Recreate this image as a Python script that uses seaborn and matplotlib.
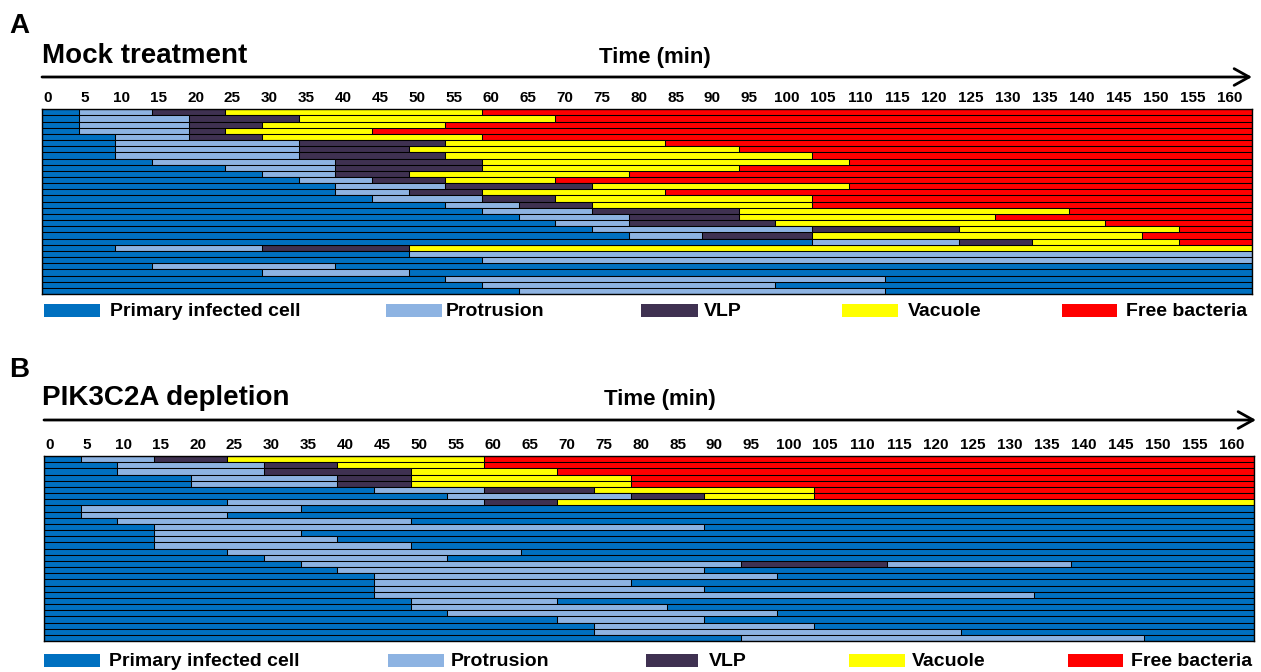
import numpy as np
import pandas as pd
import seaborn as sns
import matplotlib.pyplot as plt
from matplotlib.patches import Rectangle

# states and colours
states = ["Primary infected cell", "Protrusion", "VLP", "Vacuole", "Free bacteria"]
state_codes = ["P", "Pr", "V", "Va", "F"]
state_colors = ["#0070C0", "#8DB3E2", "#3F3151", "#FFFF00", "#FF0000"]
time_labels = list(range(0, 165, 5))
t_end = 165

# Mock treatment: sequence of states per bacterium and the time (min) each state ends
mock_seq = ["P Pr V Va F"] * 22 + ["P Pr V Va", "P Pr", "P Pr"] + ["P Pr P"] * 5
mock_end = [
    [5, 15, 25, 60, 165], [5, 20, 35, 70, 165], [5, 20, 30, 55, 165], [5, 20, 25, 45, 165],
    [10, 20, 30, 60, 165], [10, 35, 55, 85, 165], [10, 35, 50, 95, 165], [10, 35, 55, 105, 165],
    [15, 40, 60, 110, 165], [25, 40, 60, 95, 165], [30, 40, 50, 80, 165], [35, 45, 55, 70, 165],
    [40, 55, 75, 110, 165], [40, 50, 60, 85, 165], [45, 60, 70, 105, 165], [55, 65, 75, 105, 165],
    [60, 75, 95, 140, 165], [65, 80, 95, 130, 165], [70, 80, 100, 145, 165], [75, 105, 125, 155, 165],
    [80, 90, 105, 150, 165], [105, 125, 135, 155, 165],
    [10, 30, 50, 165], [50, 165], [60, 165],
    [15, 40, 165], [30, 50, 165], [55, 115, 165], [60, 100, 165], [65, 115, 165],
]

# PIK3C2A depletion
pik_seq = (["P Pr V Va F"] * 7 + ["P Pr V Va"] + ["P Pr P"] * 9 + ["P Pr V Pr P"]
           + ["P Pr P"] * 12)
pik_end = [
    [5, 15, 25, 60, 165], [10, 30, 40, 60, 165], [10, 30, 50, 70, 165], [20, 40, 50, 80, 165],
    [20, 40, 50, 80, 165], [45, 60, 75, 105, 165], [55, 80, 90, 105, 165],
    [25, 60, 70, 165],
    [5, 35, 165], [5, 25, 165], [10, 50, 165], [15, 90, 165], [15, 35, 165], [15, 40, 165],
    [15, 50, 165], [25, 65, 165], [30, 55, 165],
    [35, 95, 115, 140, 165],
    [40, 90, 165], [45, 100, 165], [45, 80, 165], [45, 90, 165], [45, 135, 165], [50, 70, 165],
    [50, 85, 165], [55, 100, 165], [70, 90, 165], [75, 105, 165], [75, 125, 165], [95, 150, 165],
]

palette = dict(zip(states, state_colors))

sns.set_theme(style="white")
plt.rcParams["font.family"] = ["Liberation Sans", "DejaVu Sans"]
plt.rcParams["font.weight"] = "bold"
plt.rcParams["text.color"] = "black"
plt.rcParams["xtick.color"] = "black"

W, H = 1261, 672
fig = plt.figure(figsize=(W / 100, H / 100), dpi=100)


def fx(x):
    return x / W


def fy(y):
    return 1 - y / H


def draw_panel(seq, ends, box):
    left, top, right, bottom = box
    ax = fig.add_axes([fx(left), fy(bottom), (right - left) / W, (bottom - top) / H])
    rows = ["r%d" % i for i in range(len(seq))]
    n_seg = max(len(s.split()) for s in seq)
    # draw the later states first, earlier ones on top (stacked bar trick)
    for k in range(n_seg - 1, -1, -1):
        recs = []
        for r, s, e in zip(rows, seq, ends):
            codes = s.split()
            if k < len(codes):
                recs.append((r, e[k], states[state_codes.index(codes[k])]))
        df = pd.DataFrame(recs, columns=["row", "end", "state"])
        sns.barplot(data=df, x="end", y="row", hue="state", hue_order=states,
                    palette=palette, order=rows, orient="h", dodge=False, width=1.0,
                    edgecolor="black", linewidth=0.75, errorbar=None, legend=False,
                    saturation=1, ax=ax)
    ax.set_xlim(0, t_end)
    ax.set_ylim(len(rows) - 0.5, -0.5)
    ax.set_xlabel("")
    ax.set_ylabel("")
    ax.set_yticks([])
    ax.xaxis.tick_top()
    tl = np.array(time_labels)
    ax.set_xticks(tl + 0.8 + tl * 0.0069)
    ax.set_xticklabels([str(t) for t in time_labels], fontsize=11, fontweight="bold",
                       color="black")
    ax.tick_params(axis="x", length=0, pad=3)
    for sp in ax.spines.values():
        sp.set_color("black")
        sp.set_linewidth(1.0)
    return ax


def header(ax, letter, title, y_letter, y_title, x_time, y_arrow, x0, x1):
    fig.text(fx(9), fy(y_letter), letter, fontsize=20, fontweight="bold", va="baseline",
             color="black")
    fig.text(fx(42), fy(y_title), title, fontsize=20, fontweight="bold", va="baseline",
             color="black")
    fig.text(fx(x_time), fy(y_title), "Time (min)", fontsize=16, fontweight="bold",
             va="baseline", ha="center", color="black")
    ax.annotate("", xy=(fx(x1), fy(y_arrow)), xytext=(fx(x0), fy(y_arrow)),
                xycoords="figure fraction", textcoords="figure fraction",
                arrowprops=dict(arrowstyle="->,head_length=0.9,head_width=0.5", lw=2,
                                color="black", shrinkA=0, shrinkB=0),
                annotation_clip=False)


def legend_row(y_top, rect_x, text_x):
    for (a, b), tx, name, c in zip(rect_x, text_x, states, state_colors):
        fig.add_artist(Rectangle((fx(a), fy(y_top + 13)), (b - a) / W, 13 / H,
                                 transform=fig.transFigure, color=c, lw=0))
        fig.text(fx(tx), fy(y_top + 12), name, fontsize=14, fontweight="bold",
                 va="baseline", color="black")


axA = draw_panel(mock_seq, mock_end, (42, 109.3, 1252, 294))
header(axA, "A", "Mock treatment", 33, 63, 655, 77, 42, 1252)
legend_row(304, [(44, 100), (386, 442), (641, 698), (842, 898), (1062, 1117)],
           [110, 446, 704, 908, 1126])

axB = draw_panel(pik_seq, pik_end, (44, 456, 1254, 641))
header(axB, "B", "PIK3C2A depletion", 377, 405, 660, 420, 44, 1256)
legend_row(654, [(44, 100), (388, 444), (646, 698), (849, 905), (1068, 1123)],
           [109, 451, 709, 912, 1131])

fig.savefig("out.png", dpi=100)
